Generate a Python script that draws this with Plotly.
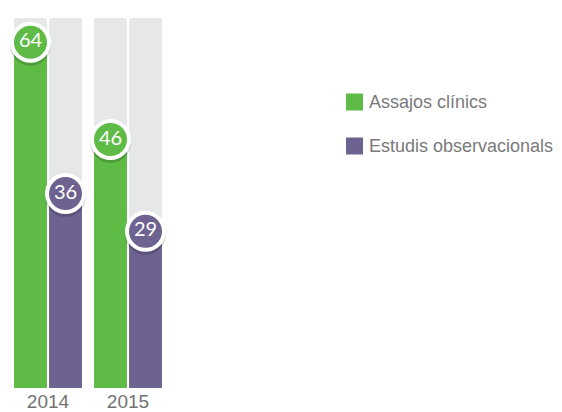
import plotly.graph_objects as go

years = ["2014", "2015"]
series_names = ["Assajos clínics", "Estudis observacionals"]
assajos = [64, 46]
estudis = [36, 29]
track_max = 68.5

colors = ["#5DBB46", "#6E6291"]
track_color = "#E6E7E9"
series_values = [assajos, estudis]
groups = ["a", "b"]

# page has an 8px body margin; figure coordinates = page coordinates - 8
W, H = 554, 404
PL, PR, PT, PB = 0, 160, 10, 380  # plot area in figure px


def px_x(x):
    return (x - 8 - PL) / (PR - PL)


def px_y(y):
    return (PB - (y - 8)) / (PB - PT)


fig = go.Figure()

# background tracks
for g in groups:
    fig.add_trace(go.Bar(
        x=years, y=[track_max] * len(years), offsetgroup=g,
        marker=dict(color=track_color, line_width=0, cornerradius=2),
        hoverinfo="skip", showlegend=False,
    ))

# value bars
for name, vals, col, g in zip(series_names, series_values, colors, groups):
    fig.add_trace(go.Bar(
        x=years, y=vals, name=name, offsetgroup=g,
        marker=dict(color=col, line_width=0), showlegend=False,
    ))

# shadow of badges
for vals, g in zip(series_values, groups):
    fig.add_trace(go.Scatter(
        x=years, y=[v - 0.55 for v in vals], mode="markers", offsetgroup=g,
        marker=dict(size=41, color="rgba(0,0,0,0.16)", line_width=0),
        hoverinfo="skip", showlegend=False, cliponaxis=False,
    ))

# badges
for vals, col, g in zip(series_values, colors, groups):
    fig.add_trace(go.Scatter(
        x=years, y=vals, mode="markers+text", offsetgroup=g,
        marker=dict(size=37, color=col, line=dict(color="white", width=4)),
        text=[str(v) for v in vals], textposition="middle center",
        textfont=dict(family="Lato", size=20, color="white"),
        showlegend=False, cliponaxis=False,
    ))

# custom legend (page coordinates)
legend_x0 = 346
legend_rows = [102, 146]
shapes = []
annotations = []
for name, col, yc in zip(series_names, colors, legend_rows):
    shapes.append(dict(type="rect", xref="paper", yref="paper",
                       x0=px_x(legend_x0), x1=px_x(legend_x0 + 17),
                       y0=px_y(yc + 8.5), y1=px_y(yc - 8.5),
                       fillcolor=col, line_width=0))
    annotations.append(dict(text=name, xref="paper", yref="paper",
                            x=px_x(367), y=px_y(yc),
                            xanchor="left", yanchor="middle", showarrow=False,
                            font=dict(family="Liberation Sans", size=18, color="#7a7a7a")))

fig.update_layout(
    width=W, height=H,
    margin=dict(l=PL, r=W - PR, t=PT, b=H - PB, autoexpand=False),
    barmode="group", bargap=0.125, bargroupgap=0.06,
    scattermode="group", scattergap=0.125,
    plot_bgcolor="white", paper_bgcolor="white",
    showlegend=False,
    shapes=shapes, annotations=annotations,
    xaxis=dict(showgrid=False, zeroline=False, showline=False, ticks="",
               tickfont=dict(family="Liberation Sans", size=19, color="#727272"),
               fixedrange=True, automargin=False),
    yaxis=dict(range=[0, track_max], visible=False, fixedrange=True),
)

fig.write_html("out.html")
